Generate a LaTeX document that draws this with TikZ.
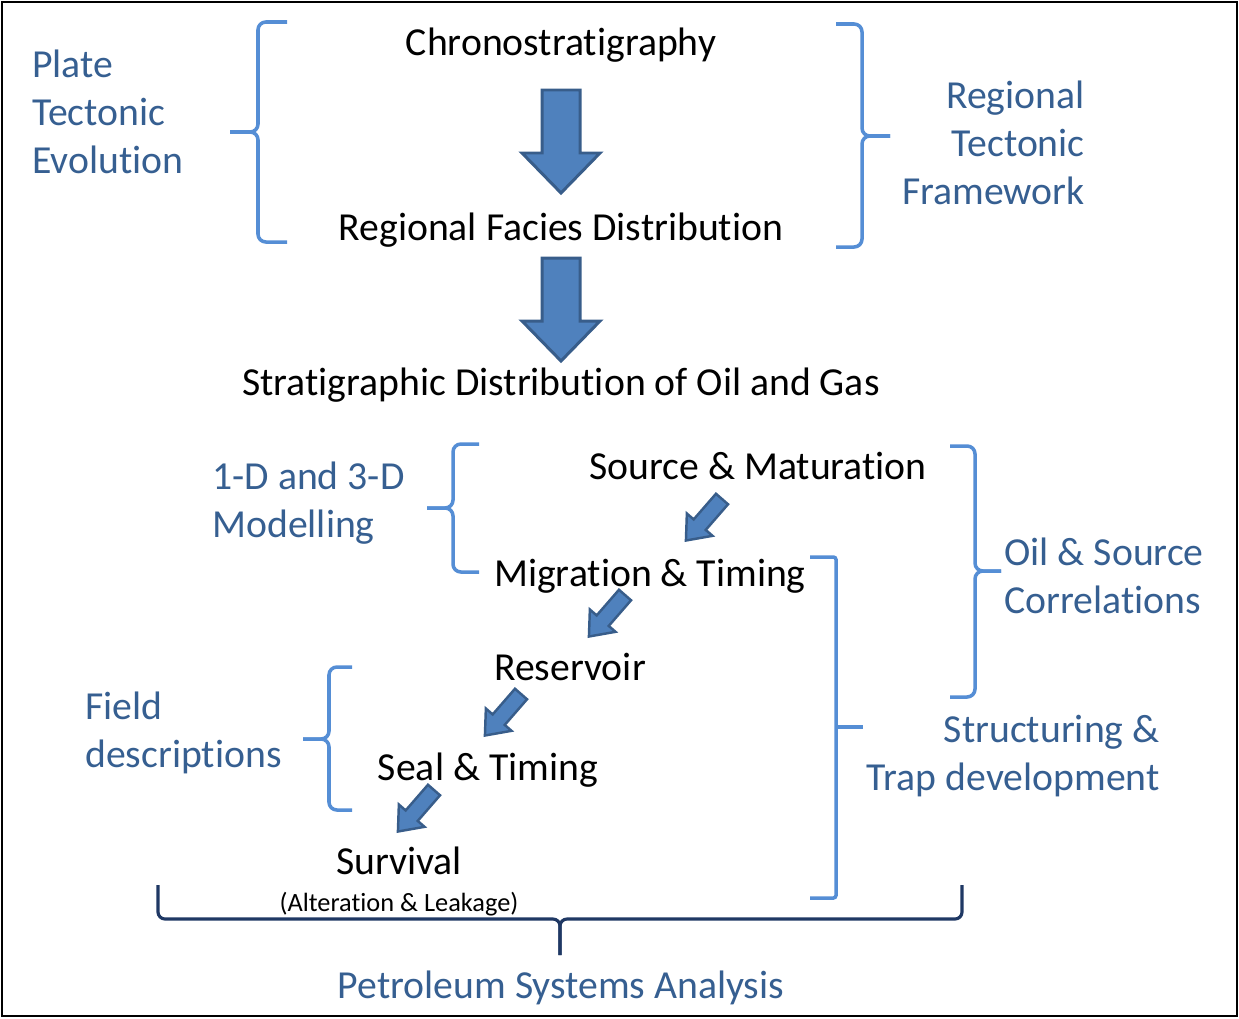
\documentclass[tikz,border=0pt]{standalone}
\usepackage{fontspec}
\setmainfont[Ligatures=NoCommon]{Carlito}
\definecolor{txtblue}{RGB}{54,95,145}
\definecolor{bracecol}{RGB}{85,142,213}
\definecolor{arrfill}{RGB}{79,129,189}
\definecolor{arrline}{RGB}{56,93,138}
\definecolor{navy}{RGB}{31,56,100}
\tikzset{
  lbl/.style={font=\fontsize{22.6}{27.3}\selectfont,inner sep=0pt},
  side/.style={lbl,text=txtblue},
  brace/.style={draw=bracecol,line width=2pt,rounded corners=4.5pt},
  bigdown/.pic={\draw[fill=arrfill,draw=arrline,line width=1.7pt,line join=miter]
    (-19,0) -- (19,0) -- (19,63) -- (39,63) -- (0,103) -- (-39,63) -- (-19,63) -- cycle;},
  smalldown/.pic={\draw[fill=arrfill,draw=arrline,line width=1.4pt,line join=miter]
    (-8,0) -- (8,0) -- (8,34) -- (17,34) -- (0,55) -- (-17,34) -- (-8,34) -- cycle;}
}
\begin{document}
\begin{tikzpicture}[x=0.02cm,y=-0.02cm]
  \useasboundingbox (0,0) rectangle (1239,1018);
  \draw[line width=1.5pt] (2,2) rectangle (1237,1016);
  % main column
  \node[lbl,anchor=base] (chrono) at (561,55) {Chronostratigraphy};
  \node[lbl,anchor=base] (facies) at (561,240) {Regional Facies Distribution};
  \node[lbl,anchor=base] (strat) at (561,395) {Stratigraphic Distribution of Oil and Gas};
  \pic at (561,90) {bigdown};
  \pic at (561,258) {bigdown};
  % side labels, top (base = last line)
  \node[side,anchor=base west,align=left] (plate) at (32,173) {Plate\\Tectonic\\Evolution};
  \node[side,anchor=base east,align=right] (regtect) at (1085,204) {Regional\\Tectonic\\Framework};
  \draw[brace] (287,22) -| (258,132) -- (230,132);
  \draw[brace] (287,242) -| (258,132) -- (230,132);
  \draw[brace] (836,24) -| (862,136) -- (890,136);
  \draw[brace] (836,247) -| (862,136) -- (890,136);
  % petroleum system steps
  \node[lbl,anchor=base] (source) at (758,479) {Source \& Maturation};
  \node[lbl,anchor=base] (migration) at (650,586) {Migration \& Timing};
  \node[lbl,anchor=base] (reservoir) at (570,680) {Reservoir};
  \node[lbl,anchor=base] (seal) at (488,780) {Seal \& Timing};
  \node[lbl,anchor=base] (survival) at (399,874) {Survival};
  \node[inner sep=0pt,anchor=base,font=\fontsize{15}{18}\selectfont] (leak) at (399,911) {(Alteration \& Leakage)};
  \pic[rotate=-41] at (722,499) {smalldown};
  \pic[rotate=-41] at (625,595) {smalldown};
  \pic[rotate=-41] at (521,694) {smalldown};
  \pic[rotate=-41] at (434,790) {smalldown};
  % side labels, bottom
  \node[side,anchor=base west,align=left] (model) at (212,537) {1-D and 3-D\\Modelling};
  \node[side,anchor=base west,align=left] (oilsrc) at (1004,613) {Oil \& Source\\Correlations};
  \node[side,anchor=base east,align=right] (struct) at (1160,790) {Structuring \&\\Trap development};
  \node[side,anchor=base west,align=left] (field) at (85,767) {Field\\descriptions};
  \draw[brace] (479,444) -| (453,508) -- (427,508);
  \draw[brace] (479,572) -| (453,508) -- (427,508);
  \draw[brace] (950,446) -| (975,571) -- (1001,571);
  \draw[brace] (950,697) -| (975,571) -- (1001,571);
  \draw[brace] (352,667) -| (329,739) -- (303,739);
  \draw[brace] (352,810) -| (329,739) -- (303,739);
  \draw[brace,rounded corners=1.5pt] (810,557) -| (836,898) -- (810,898);
  \draw[brace] (836,727) -- (863,727);
  % overall
  \draw[navy,line width=1.8pt,rounded corners=4pt] (158,885) |- (560,919) -- (560,955);
  \draw[navy,line width=1.8pt,rounded corners=4pt] (962,885) |- (560,919) -- (560,955);
  \node[side,anchor=base] (psa) at (561,998) {Petroleum Systems Analysis};
\end{tikzpicture}
\end{document}
